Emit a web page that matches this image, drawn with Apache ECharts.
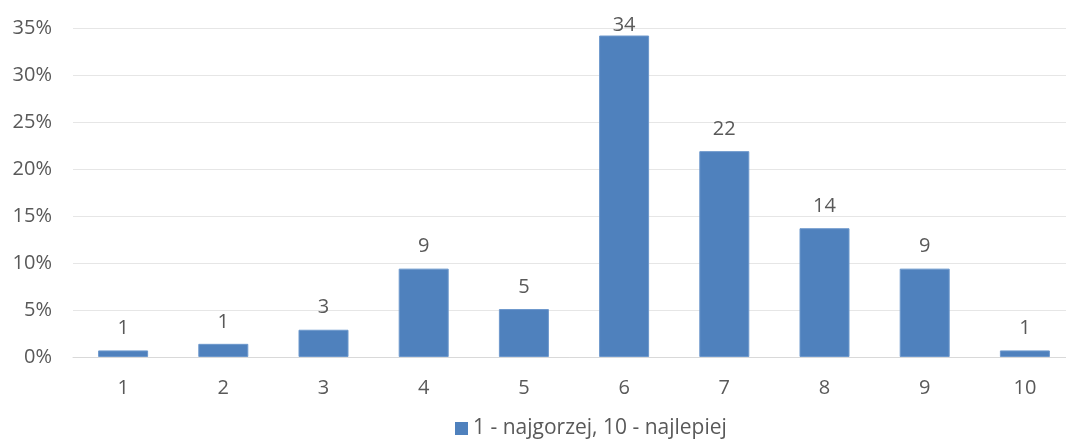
<!DOCTYPE html>
<html>
<head>
<meta charset="utf-8">
<script src="https://cdn.jsdelivr.net/npm/echarts@6/dist/echarts.min.js"></script>
<style>
html,body{margin:0;padding:0;background:#fff;}
#chart{width:1066px;height:439px;}
</style>
</head>
<body>
<div id="chart"></div>
<script>
var categories = ['1','2','3','4','5','6','7','8','9','10'];
var values = [0.7, 1.4, 2.9, 9.4, 5.1, 34.2, 21.9, 13.7, 9.4, 0.7];
var labels = ['1','1','3','9','5','34','22','14','9','1'];
var seriesName = '1 - najgorzej, 10 - najlepiej';
var yTicks = [0, 5, 10, 15, 20, 25, 30, 35];

var FONT = '"Open Sans", "Noto Sans", sans-serif';
var TXT = '#595959';
var FS = 20;
var yMax = yTicks[yTicks.length - 1];

var chart = echarts.init(document.getElementById('chart'), null, {renderer: 'canvas'});
chart.setOption({
  animation: false,
  backgroundColor: '#ffffff',
  textStyle: {fontFamily: FONT},
  grid: {left: 73, width: 1002, top: 28, height: 329, containLabel: false, outerBoundsMode: 'none'},
  legend: {
    top: 413,
    left: 450,
    itemWidth: 13,
    itemHeight: 13,
    itemGap: 7,
    icon: 'rect',
    itemStyle: {borderWidth: 0},
    textStyle: {color: TXT, fontSize: 21, fontFamily: FONT},
    data: [seriesName]
  },
  xAxis: {
    type: 'category',
    data: categories,
    axisLine: {show: true, lineStyle: {color: '#d9d9d9', width: 1}},
    axisTick: {show: false},
    axisLabel: {color: TXT, fontSize: FS, fontFamily: FONT, margin: 21}
  },
  yAxis: {
    type: 'value',
    min: yTicks[0],
    max: yMax,
    interval: yTicks[1] - yTicks[0],
    axisLine: {show: false},
    axisTick: {show: false},
    splitLine: {lineStyle: {color: '#e6e6e6', width: 1}},
    axisLabel: {color: TXT, fontSize: FS, fontFamily: FONT, margin: 21,
      formatter: function (v) { return v + '%'; }}
  },
  series: [{
    name: seriesName,
    type: 'bar',
    barWidth: 50,
    itemStyle: {color: '#4f81bd', borderColor: '#6d98cc', borderWidth: 1},
    label: {
      show: true,
      position: 'top',
      color: TXT,
      fontSize: FS,
      fontFamily: FONT,
      formatter: function (p) { return labels[p.dataIndex]; }
    },
    data: values.map(function (v) {
      return {value: v, label: {distance: (yMax - v) < 3 ? 0 : 12}};
    })
  }]
});
</script>
</body>
</html>
